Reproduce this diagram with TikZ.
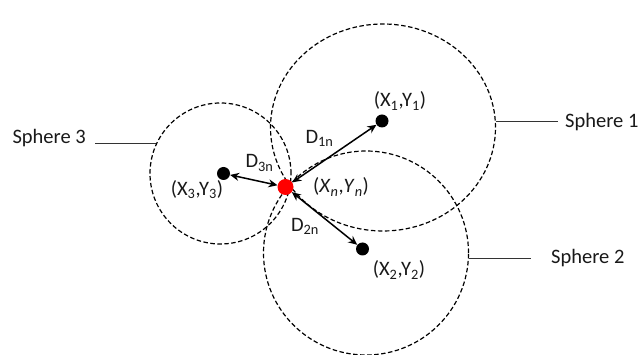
\documentclass[tikz,border=0pt]{standalone}
\usepackage{fontspec}
\setmainfont{Carlito}
\usetikzlibrary{arrows.meta,shapes.geometric}
\begin{document}
\begin{tikzpicture}[x=1pt,y=-1pt,
  sphere/.style={draw, ellipse, dash pattern=on 4.5pt off 2.5pt, line width=1.2pt, inner sep=0pt},
  dotnode/.style={circle, fill=black, minimum size=13pt, inner sep=0pt},
  rednode/.style={circle, fill=red, minimum size=16pt, inner sep=0pt},
  darrow/.style={{Stealth[length=9pt,width=8pt]}-{Stealth[length=9pt,width=8pt]}, line width=1.5pt},
  lbl/.style={font=\fontsize{20.5}{22}\selectfont, inner sep=0pt, text=black!90},
  leader/.style={line width=0.9pt, draw=black!80}]
\useasboundingbox (0,0) rectangle (641,355);
% spheres
\node[sphere, minimum width=225pt, minimum height=207pt] (s1) at (383,127.5) {};
\node[sphere, minimum width=205pt, minimum height=204pt] (s2) at (366,253) {};
\node[sphere, minimum width=141pt, minimum height=141pt] (s3) at (220.5,173.5) {};
% points
\node[dotnode] (p1) at (382,121) {};
\node[dotnode] (p2) at (362.5,249) {};
\node[dotnode] (p3) at (223.5,173.5) {};
\node[rednode] (pn) at (285.5,187) {};
% arrows
\draw[darrow] (pn) -- (p1);
\draw[darrow] (pn) -- (p2);
\draw[darrow] (pn) -- (p3);
% labels
\node[lbl] (t1) at (400,101) {(X\textsubscript{1},Y\textsubscript{1})};
\node[lbl] (t2) at (399,270) {(X\textsubscript{2},Y\textsubscript{2})};
\node[lbl] (t3) at (197,190) {(X\textsubscript{3},Y\textsubscript{3})};
\node[lbl] (tn) at (341,187) {(\textit{X}\textsubscript{\textit{n}},\textit{Y}\textsubscript{\textit{n}})};
\node[lbl] (d1) at (319.5,138) {D\textsubscript{1n}};
\node[lbl] (d2) at (305,226) {D\textsubscript{2n}};
\node[lbl] (d3) at (259.5,163) {D\textsubscript{3n}};
% sphere names
\node[lbl, anchor=west] (l1) at (565,122) {Sphere 1};
\node[lbl, anchor=west] (l2) at (551,258) {Sphere 2};
\node[lbl, anchor=east] (l3) at (86,138) {Sphere 3};
\draw[leader] (s1.3) -- ([xshift=-7pt]s1.3 -| l1.west);
\draw[leader] (s2.-3) -- ([xshift=-20pt]s2.-3 -| l2.west);
\draw[leader] (s3.155) -- ([xshift=9pt]s3.155 -| l3.east);
\end{tikzpicture}
\end{document}
